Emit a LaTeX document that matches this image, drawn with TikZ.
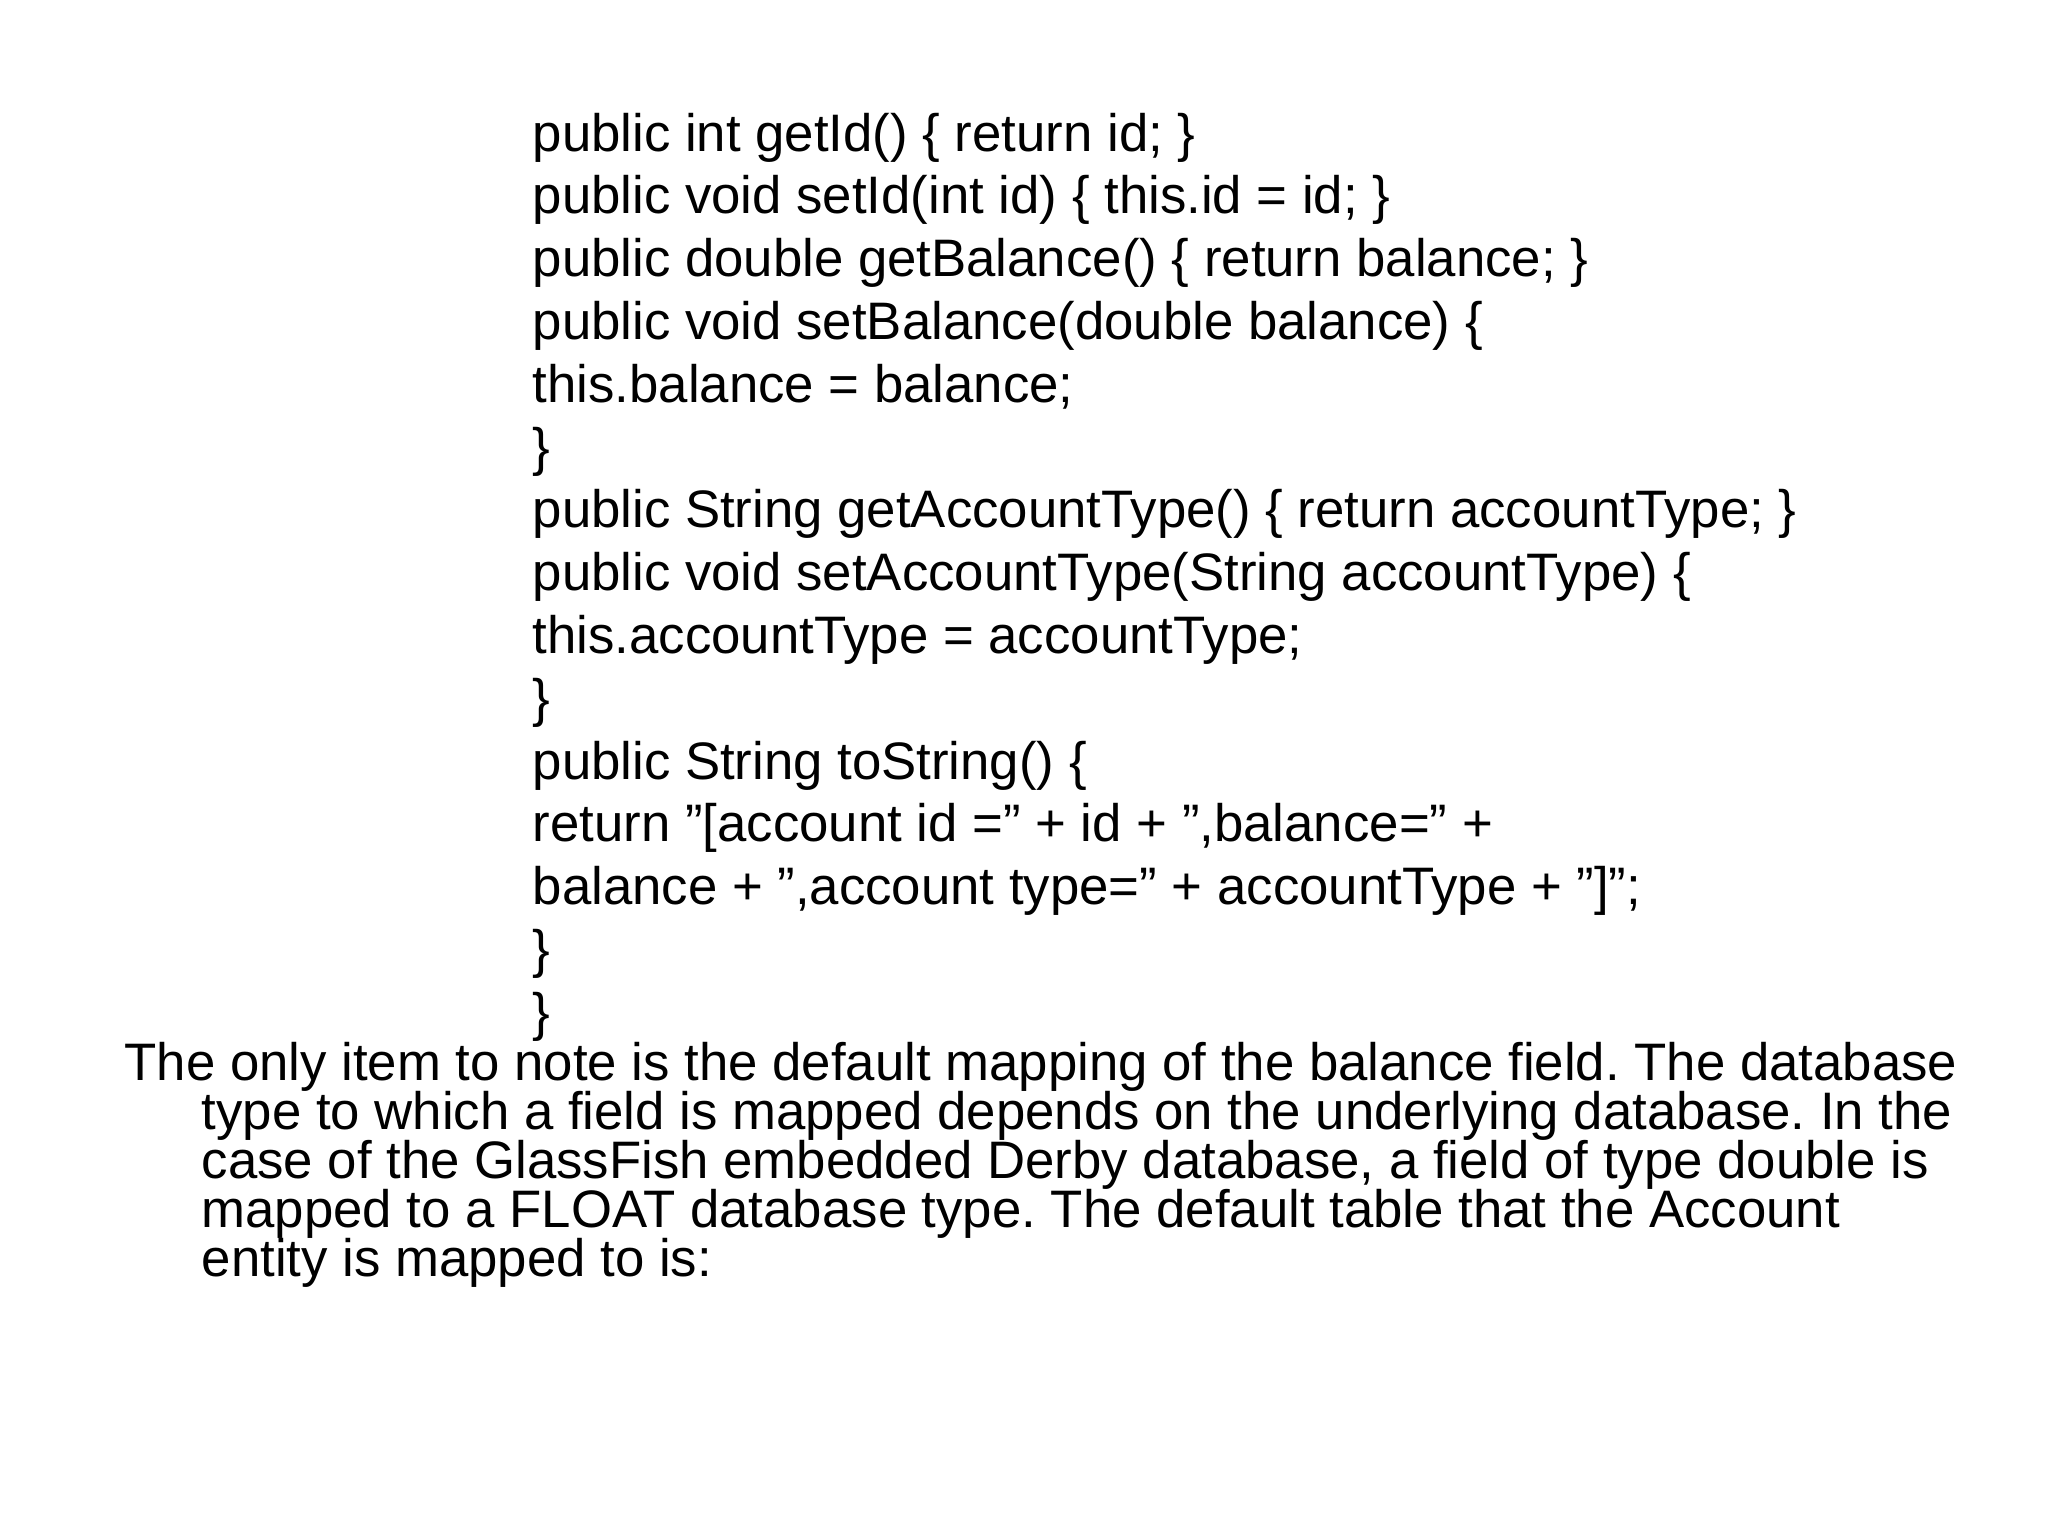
\documentclass[tikz,border=0pt]{standalone}
\usepackage{fontspec}
\setmainfont{Liberation Sans}
\newcommand{\dq}{\char"22\relax}
\begin{document}
\begin{tikzpicture}[x=0.01cm,y=-0.01cm,
  ln/.style={anchor=base west,inner sep=0pt,font=\fontsize{15}{18}\selectfont\frenchspacing}]
\useasboundingbox (0,0) rectangle (2048,1536);
\foreach \t [count=\i from 0] in {
 {public int getId() \{ return id; \}},
 {public void setId(int id) \{ this.id = id; \}},
 {public double getBalance() \{ return balance; \}},
 {public void setBalance(double balance) \{},
 {this.balance = balance;},
 {\}},
 {public String getAccountType() \{ return accountType; \}},
 {public void setAccountType(String accountType) \{},
 {this.accountType = accountType;},
 {\}},
 {public String toString() \{},
 {return \dq[account id =\dq{} + id + \dq,balance=\dq{} +},
 {balance + \dq,account type=\dq{} + accountType + \dq]\dq;},
 {\}},
 {\}}}
 \node[ln] (c\i) at (532,{151+62.8*\i}) {\t};
\node[ln] (p0) at (124,1080) {The only item to note is the default mapping of the balance field. The database};
\node[ln] (p1) at (201,1129) {type to which a field is mapped depends on the underlying database. In the};
\node[ln] (p2) at (201,1178) {case of the GlassFish embedded Derby database, a field of type double is};
\node[ln] (p3) at (201,1227) {mapped to a FLOAT database type. The default table that the Account};
\node[ln] (p4) at (201,1276) {entity is mapped to is:};
\end{tikzpicture}
\end{document}
